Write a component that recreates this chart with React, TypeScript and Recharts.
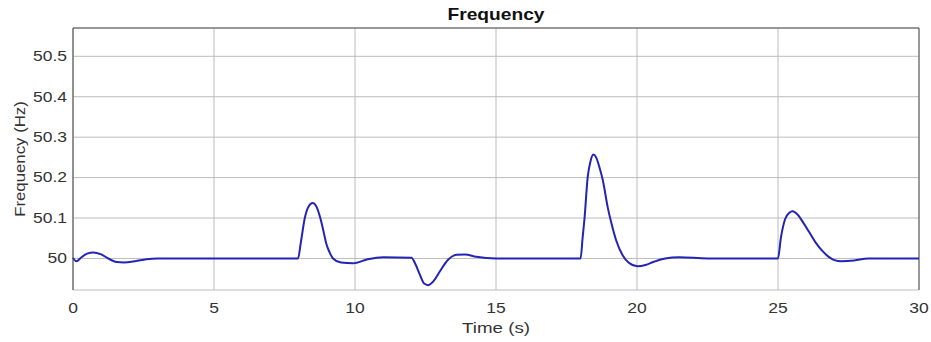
import React from "react";
import {
  LineChart,
  Line,
  XAxis,
  YAxis,
  CartesianGrid,
  ReferenceLine,
} from "recharts";

// time stamps (s)
const times = [
  0, 0.12, 0.3, 0.5, 0.72, 1.0, 1.3, 1.55, 1.8, 2.2, 2.6, 3.0,
  7.98, 8.08, 8.22, 8.35, 8.5, 8.62, 8.77, 8.88, 8.98, 9.1, 9.22, 9.5, 9.93, 10.45, 11.0,
  12.0, 12.15, 12.3, 12.45, 12.6, 12.8, 13.0, 13.3, 13.6, 13.9, 14.3, 15.0,
  18.0, 18.07, 18.14, 18.25, 18.35, 18.45, 18.55, 18.67, 18.79, 18.96, 19.1, 19.26,
  19.49, 19.7, 20.02, 20.3, 20.6, 21.0, 21.5, 22.5,
  25.0, 25.1, 25.25, 25.4, 25.52, 25.7, 25.9, 26.1, 26.35, 26.58, 26.8, 27.0,
  27.25, 27.7, 28.2, 30,
];

// frequency (Hz) at each time stamp
const freq = [
  50.002, 49.993, 50.003, 50.012, 50.015, 50.01, 49.998, 49.991, 49.99, 49.993, 49.998, 50.0,
  50.0, 50.04, 50.1, 50.128, 50.137, 50.13, 50.1, 50.068, 50.037, 50.015, 50.0, 49.99, 49.988, 49.998, 50.003,
  50.002, 49.985, 49.96, 49.938, 49.934, 49.945, 49.967, 49.997, 50.009, 50.01, 50.004, 50.0,
  50.0, 50.05, 50.1, 50.2, 50.24, 50.257, 50.25, 50.225, 50.193, 50.127, 50.085, 50.045,
  50.008, 49.99, 49.981, 49.984, 49.992, 50.0, 50.003, 50.0,
  50.0, 50.05, 50.097, 50.113, 50.117, 50.108, 50.088, 50.066, 50.038, 50.018, 50.004, 49.996,
  49.993, 49.995, 50.0, 50.0,
];

const xTicks = [0, 5, 10, 15, 20, 25, 30];
const yTicks = [50, 50.1, 50.2, 50.3, 50.4, 50.5];
const yMin = 49.922;
const yMax = 50.57;

const data = times.map((t, i) => ({ t, f: freq[i] }));

const font = "'Liberation Sans', Arial, sans-serif";
const textColor = "#333";

const YTick = (props: any) => {
  const v = props.payload.value;
  const label = v === 50 ? "50" : v.toFixed(1);
  return (
    <g transform={`translate(${props.x},${props.y}) scale(1.25,1)`}>
      <text textAnchor="end" dy="0.35em" fontSize={14} fontFamily={font} fill={textColor}>
        {label}
      </text>
    </g>
  );
};

const XTick = (props: any) => (
  <g transform={`translate(${props.x},${props.y}) scale(1.25,1)`}>
    <text textAnchor="middle" dy={11} fontSize={14} fontFamily={font} fill={textColor}>
      {props.payload.value}
    </text>
  </g>
);

const XLabel = (props: any) => {
  const vb = props.viewBox;
  return (
    <g transform={`translate(${vb.x + vb.width / 2},${vb.y + 43}) scale(1.25,1)`}>
      <text textAnchor="middle" fontSize={15} fontFamily={font} fill={textColor}>
        Time (s)
      </text>
    </g>
  );
};

const YLabel = (props: any) => {
  const vb = props.viewBox;
  return (
    <g transform={`translate(20,${vb.y + vb.height / 2}) rotate(-90) scale(1.2,1)`}>
      <text textAnchor="middle" dy="0.35em" fontSize={14} fontFamily={font} fill={textColor}>
        Frequency (Hz)
      </text>
    </g>
  );
};

const Title = (props: any) => {
  const vb = props.viewBox;
  return (
    <g transform={`translate(${vb.x + vb.width / 2},${vb.y - 8}) scale(1.2,1)`}>
      <text textAnchor="middle" fontSize={16} fontWeight="bold" fontFamily={font} fill="#111">
        Frequency
      </text>
    </g>
  );
};

export default function App() {
  return (
    <div style={{ position: "absolute", left: 0, top: 0, background: "#fff" }}>
      <LineChart
        width={931}
        height={342}
        data={data}
        margin={{ top: 28, right: 12, left: 0, bottom: 0 }}
      >
        <CartesianGrid stroke="#bcbcbc" />
        <XAxis
          dataKey="t"
          type="number"
          domain={[0, 30]}
          ticks={xTicks}
          height={52}
          axisLine={false}
          tickLine={false}
          tickSize={0}
          tickMargin={12}
          tick={<XTick />}
          label={{ content: <XLabel /> }}
        />
        <YAxis
          type="number"
          domain={[yMin, yMax]}
          ticks={yTicks}
          width={73}
          axisLine={{ stroke: "#444" }}
          tickLine={false}
          tickSize={0}
          tickMargin={6}
          tick={<YTick />}
          label={{ content: <YLabel /> }}
        />
        <ReferenceLine y={yMax} stroke="#555" label={{ content: <Title /> }} />
        <ReferenceLine x={30} stroke="#555" />
        <Line
          type="monotone"
          dataKey="f"
          stroke="#2424b4"
          strokeWidth={2}
          dot={false}
          isAnimationActive={false}
        />
      </LineChart>
    </div>
  );
}
